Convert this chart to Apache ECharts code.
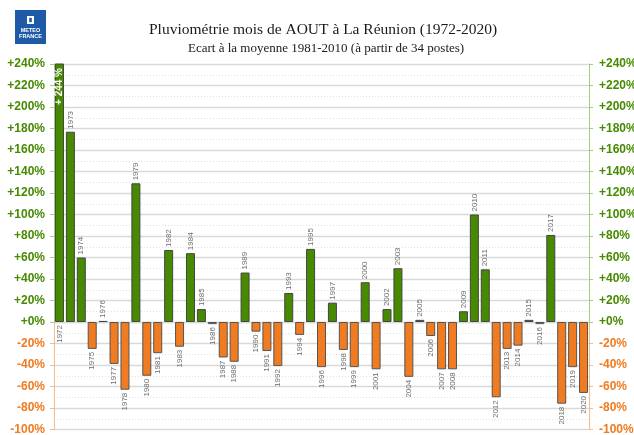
<!DOCTYPE html>
<html>
<head>
<meta charset="UTF-8">
<title>Pluviométrie AOUT La Réunion</title>
<script src="https://cdn.jsdelivr.net/npm/echarts@6/dist/echarts.min.js"></script>
<style>
html,body{margin:0;padding:0;background:#fff}
#main{width:634px;height:435px}
</style>
</head>
<body>
<div id="main"></div>
<script>
// années 1972-2020
var years = [];
for (var y = 1972; y <= 2020; y++) years.push(String(y));

// écart à la moyenne (%)
var ecarts = [
	244, 177, 60, -25, 1, -39, -63, 129, -50, -29,
	67, -23, 64, 12, -2, -33, -37, 46, -9, -27,
	-41, 27, -12, 68, -42, 18, -26, -42, 37, -44,
	12, 50, -51, 2, -13, -44, -44, 10, 100, 49,
	-70, -25, -22, 2, -2, 81, -76, -42, -66
];

var yMaxPos = 240;
var yMinNeg = -100;

var VERT = '#478a00';
var ORANGE = '#f07b20';

// séparation positifs / négatifs (une grille chacun)
var posData = [], negData = [], notes = [];
for (var i = 0; i < ecarts.length; i++) {
	var v = ecarts[i];
	if (v >= 0) { posData.push(v); negData.push('-'); }
	else { posData.push('-'); negData.push(v); }
	// valeur hors échelle : écrite dans la barre
	notes.push(v > yMaxPos ? v : '-');
}

function fmt(v){
	return (v >= 0 ? '+' : '') + v + '%';
}

var myChart = echarts.init(document.getElementById('main'));

function yAxe(grid, pos, min, max, col, lineCol, isNeg){
	return {
		type: 'value',
		gridIndex: grid,
		position: pos,
		min: min,
		max: max,
		interval: 20,
		axisLine: {show: true, lineStyle: {color: lineCol, width: 1}},
		axisTick: {show: true, length: 4, lineStyle: {color: lineCol}},
		axisLabel: {
			color: col,
			fontWeight: 'bold',
			fontSize: 12,
			fontFamily: 'Liberation Sans, Arial, sans-serif',
			margin: pos === 'left' ? 9 : 10,
			showMaxLabel: !isNeg,
			formatter: function(v){ if (isNeg && v === 0) return ''; return fmt(v); }
		},
		splitLine: {show: pos === 'left', lineStyle: {color: '#d9d9d9', width: 1.3}},
		minorTick: {show: false, splitNumber: 2},
		minorSplitLine: {show: pos === 'left', lineStyle: {color: '#e0e0e0', type: [1, 2]}}
	};
}

var yearLabel = {
	show: true,
	rotate: 90,
	fontSize: 8,
	color: '#6e6e6e',
	fontFamily: 'Liberation Sans, Arial, sans-serif',
	distance: 3,
	formatter: function(p){ return p.name; }
};

var option = {
	animation: false,
	title: [{
		text: 'Pluviométrie mois de AOUT à La Réunion (1972-2020)',
		left: 144,
		top: 17,
		textStyle: {fontFamily: 'Liberation Serif, Times New Roman, serif', fontSize: 15.5, fontWeight: 'normal', color: '#1a1a1a'}
	}, {
		text: 'Ecart à la moyenne 1981-2010 (à partir de 34 postes)',
		left: 183,
		top: 37,
		textStyle: {fontFamily: 'Liberation Serif, Times New Roman, serif', fontSize: 13, fontWeight: 'normal', color: '#1a1a1a'}
	}],
	graphic: [{
		type: 'group',
		left: 15,
		top: 10,
		children: [
			{type: 'rect', shape: {x: 0, y: 0, width: 31, height: 34}, style: {fill: '#1f5aa6'}},
			{type: 'rect', shape: {x: 12, y: 6, width: 7, height: 8}, style: {fill: '#fff'}},
			{type: 'rect', shape: {x: 14.2, y: 7.8, width: 2.6, height: 4.4}, style: {fill: '#1f5aa6'}},
			{type: 'text', style: {x: 15.5, y: 17, text: 'METEO\nFRANCE', fill: '#fff', font: 'bold 5.5px Liberation Sans, Arial', align: 'center', lineHeight: 6.5}}
		]
	}],
	grid: [
		{left: 54, right: 45, top: 64, bottom: 113, outerBoundsMode: 'none'},
		{left: 54, right: 45, top: 322, bottom: 5.5, outerBoundsMode: 'none'}
	],
	xAxis: [
		{type: 'category', gridIndex: 0, data: years, axisLine: {show: false}, axisTick: {show: false}, axisLabel: {show: false}},
		{type: 'category', gridIndex: 1, data: years, axisLine: {show: false}, axisTick: {show: false}, axisLabel: {show: false}}
	],
	yAxis: [
		yAxe(0, 'left', 0, yMaxPos, VERT, '#a3cf7c', false),
		yAxe(0, 'right', 0, yMaxPos, VERT, '#a3cf7c', false),
		yAxe(1, 'left', yMinNeg, 0, ORANGE, '#f5bb8c', true),
		yAxe(1, 'right', yMinNeg, 0, ORANGE, '#f5bb8c', true)
	],
	series: [
		{
			name: 'positif',
			type: 'bar',
			xAxisIndex: 0,
			yAxisIndex: 0,
			barWidth: 9,
			clip: true,
			data: posData.map(function(v){
				if (v !== '-' && v > yMaxPos) {
					return {value: v, label: {position: 'bottom', align: 'right', verticalAlign: 'middle'}};
				}
				return v;
			}),
			itemStyle: {color: VERT, borderColor: '#444', borderWidth: 1},
			label: echarts.util.extend({position: 'top', align: 'left', verticalAlign: 'middle'}, yearLabel)
		},
		{
			name: 'note',
			type: 'bar',
			xAxisIndex: 0,
			yAxisIndex: 0,
			barWidth: 9,
			barGap: '-100%',
			clip: true,
			data: notes,
			itemStyle: {color: 'rgba(0,0,0,0)'},
			label: {
				show: true,
				position: 'insideTop',
				rotate: 90,
				align: 'right',
				verticalAlign: 'middle',
				distance: 4,
				color: '#fff',
				fontWeight: 'bold',
				fontSize: 10,
				fontFamily: 'Liberation Sans, Arial, sans-serif',
				formatter: function(p){ return '+ ' + p.value + ' %'; }
			}
		},
		{
			name: 'negatif',
			type: 'bar',
			xAxisIndex: 1,
			yAxisIndex: 2,
			barWidth: 9,
			data: negData,
			itemStyle: {color: ORANGE, borderColor: '#555', borderWidth: 1},
			label: echarts.util.extend({position: 'bottom', align: 'right', verticalAlign: 'middle'}, yearLabel)
		}
	]
};
myChart.setOption(option);
</script>
</body>
</html>
